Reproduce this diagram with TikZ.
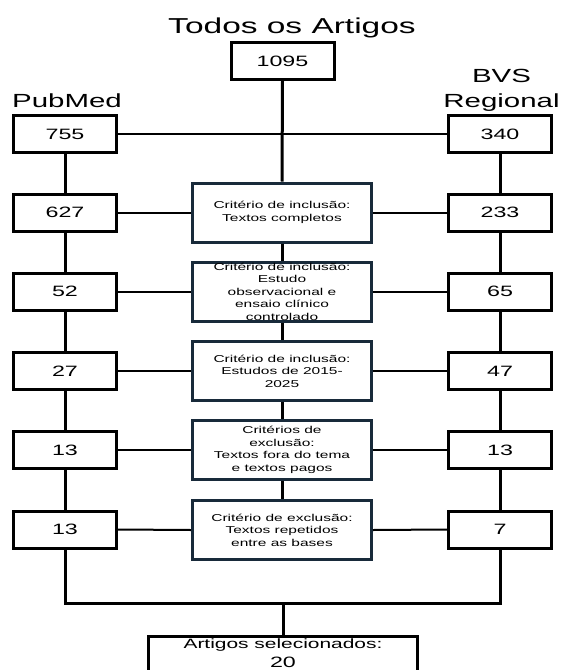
\documentclass[tikz,border=0pt]{standalone}
\usepackage{fontspec}
\setmainfont{Liberation Sans}[FakeStretch=1.55]
\usepackage{tikz}
\usetikzlibrary{calc,positioning}
\definecolor{critNavy}{RGB}{24,42,58}

\begin{document}
\begin{tikzpicture}[x=1pt,y=-1pt,
    countbox/.style={draw=black, line width=3pt, minimum width=103pt, minimum height=37pt, inner sep=0pt, font=\fontsize{15}{18}\selectfont},
    critbox/.style={draw=critNavy, line width=3pt, minimum width=179pt, minimum height=59pt, inner xsep=0pt, inner ysep=0pt, align=center, font=\fontsize{10}{12.5}\selectfont},
    selbox/.style={draw=black, line width=3pt, minimum width=269pt, inner xsep=0pt, inner ysep=3pt, align=center, text depth=45pt, font=\fontsize{13.5}{18.5}\selectfont},
    sourcelabel/.style={font=\fontsize{19}{25}\selectfont, align=center, inner sep=0pt},
    hlink/.style={line width=2pt},
    vlink/.style={line width=3pt}]
    \useasboundingbox (0,0) rectangle (562,670);
    \clip (0,0) rectangle (562,670);
    \fill[white] (0,0) rectangle (562,670);

    \node[anchor=base, inner sep=0pt, font=\fontsize{21.6}{26}\selectfont] (title) at (292,33) {Todos os Artigos};
    \node[countbox] (total) at (282.5,61) {1095};
    \node[sourcelabel, anchor=base] (pubmed) at (67,107) {PubMed};
    \node[sourcelabel, anchor=south] (bvs) at (501.5,112) {BVS\\Regional};

    \foreach \r/\y/\a/\b in {1/134/755/340, 2/212.5/627/233, 3/291.5/52/65, 4/371/27/47, 5/450/13/13, 6/529.5/13/7} {
        \node[countbox] (pm\r) at (65,\y) {\a};
        \node[countbox] (bvs\r) at (500,\y) {\b};
    }

    \node[critbox] (crit1) at (282,212.5) {Critério de inclusão:\\Textos completos};
    \node[critbox] (crit2) at (282,291.5) {Critério de inclusão:\\Estudo\\observacional e\\ensaio clínico\\controlado};
    \node[critbox] (crit3) at (282,371) {Critério de inclusão:\\Estudos de 2015-\\2025};
    \node[critbox] (crit4) at (282,450) {Critérios de\\exclusão:\\Textos fora do tema\\e textos pagos};
    \node[critbox] (crit5) at (282,530) {Critério de exclusão:\\Textos repetidos\\entre as bases};

    \node[selbox, anchor=north] (selected) at (283,634.5) {Artigos selecionados:\\{\fontsize{15}{18.5}\selectfont 20}};

    \draw[vlink] (total.south) -- (crit1.north);
    \draw[hlink] (pm1.east) -- (bvs1.west);
    \foreach \i/\j in {1/2,2/3,3/4,4/5,5/6} {
        \draw[vlink] (pm\i.south) -- (pm\j.north);
        \draw[vlink] (bvs\i.south) -- (bvs\j.north);
    }
    \foreach \i/\j in {1/2,2/3,3/4,4/5} {
        \draw[vlink] (crit\i.south) -- (crit\j.north);
    }
    \foreach \r/\c in {2/1,3/2,4/3,5/4,6/5} {
        \draw[hlink] (pm\r.east) -- (crit\c.west);
        \draw[hlink] (crit\c.east) -- (bvs\r.west);
    }

    \coordinate (merge) at (283,603);
    \draw[vlink] (pm6.south) |- (merge) -| (bvs6.south);
    \draw[vlink] (merge) -- (selected.north);
\end{tikzpicture}
\end{document}
